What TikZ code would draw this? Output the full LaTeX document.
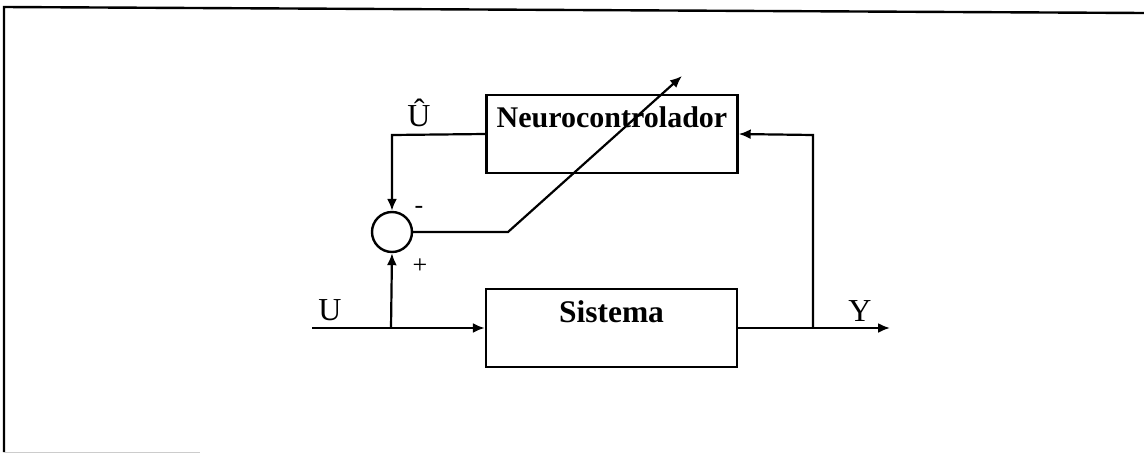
\documentclass[tikz,border=0pt]{standalone}
\usepackage{fontspec}
\setmainfont{Liberation Serif}
\usetikzlibrary{arrows.meta,calc}
\begin{document}
\begin{tikzpicture}[x=1pt,y=-1pt,
  wire/.style={line width=2.2pt,draw=black},
  arr/.style={wire,-{Latex[length=12pt,width=10pt]}},
  blockbox/.style={draw=black,line width=2.4pt,minimum width=251pt,minimum height=78pt,inner sep=0pt},
  lbl/.style={font=\fontsize{32}{34}\selectfont,inner sep=0pt},
  sgn/.style={font=\fontsize{26}{28}\selectfont,inner sep=0pt}]
\useasboundingbox (0,0) rectangle (1144,453);
% frame
\draw[line width=2.4pt] (1144,13) -- (4,7) -- (4,452);
\draw[line width=1pt,black!20] (4,452) -- (200,452);
% blocks
\node[blockbox] (neuro) at (612,134) {};
\node[font=\bfseries\fontsize{30}{32}\selectfont,inner sep=0pt] (neurot) at (612,117) {Neurocontrolador};
\node[blockbox] (sis) at (611.5,328) {};
\node[font=\bfseries\fontsize{31.5}{33}\selectfont,inner sep=0pt] (sist) at (611.5,312) {Sistema};
\node[draw=black,line width=2.4pt,circle,minimum size=40pt,inner sep=0pt] (sum) at (392,232) {};
% coordinates
\coordinate (uin) at (312,328);
\coordinate (bra) at (391,328);
\coordinate (ybr) at (813,328);
\coordinate (yout) at (890,328);
\coordinate (ufb) at (392,135);
\coordinate (yfb) at (813,135);
\coordinate (kink) at (508,232);
\coordinate (tip) at (682,76);
% labels
\node[lbl] (ulab) at (330,310) {U};
\node[lbl] (ylab) at (860,311) {Y};
\node[lbl] (uhat) at (419,113) {Û};
\node[sgn] (minus) at (419,210) {-};
\node[sgn] (plus) at (420,266) {+};
% connectors
\draw[arr] (uin) -- (sis.west);
\draw[arr] (bra) -- (sum.south);
\draw[arr] (sis.east) -- (yout);
\draw[arr] (ybr) -- (yfb) -- (neuro.east);
\draw[arr] (neuro.west) -- (ufb) -- (sum.north);
\draw[arr] (sum.east) -- (kink) -- (tip);
\end{tikzpicture}
\end{document}
